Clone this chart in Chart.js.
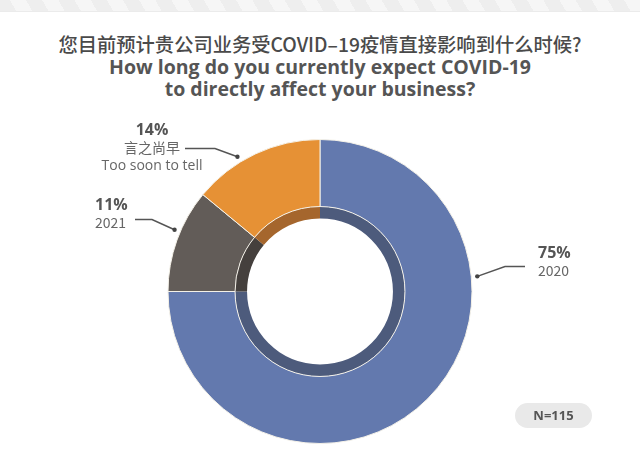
<!DOCTYPE html>
<html>
<head>
<meta charset="utf-8">
<script src="https://cdn.jsdelivr.net/npm/chart.js@4.4.0/dist/chart.umd.min.js"></script>
<style>
  body { margin: 0; background: #fff; }
  #wrap { position: relative; width: 640px; height: 450px; overflow: hidden; }
  #band {
    position: absolute; left: 0; top: 0; width: 640px; height: 11px;
    background: repeating-linear-gradient(60deg, #eeeeee 0 14px, #f6f6f6 14px 28px);
    border-bottom: 1px solid #ebebeb;
  }
  #title {
    position: absolute; left: 0; top: 30px; width: 640px; text-align: center;
    color: #4a4a4a;
  }
  #title div { height: 22.5px; line-height: 22.5px; white-space: nowrap; }
  #title .zh { font: 500 19.3px "Noto Sans CJK SC", "Open Sans", sans-serif; }
  #title .en { font: bold 19.5px "Open Sans", sans-serif; color: #555; }
  #badge {
    position: absolute; left: 515px; top: 403px; width: 77px; height: 25px;
    border-radius: 13px; background: #e9e9e9; color: #555;
    font: bold 13px "Open Sans", sans-serif; line-height: 25px; text-align: center;
  }
  canvas { position: absolute; left: 0; top: 0; }
</style>
</head>
<body>
<div id="wrap">
  <div id="band"></div>
  <div id="title">
    <div class="zh">您目前预计贵公司业务受COVID–19疫情直接影响到什么时候?</div>
    <div class="en">How long do you currently expect COVID-19</div>
    <div class="en">to directly affect your business?</div>
  </div>
  <canvas id="myChart" width="640" height="450"></canvas>
  <div id="badge">N=115</div>
</div>
<script>
// data
const categories = ["2020", "2021", "言之尚早"];
const subLabels = ["", "", "Too soon to tell"];
const shares = [75, 11, 14];

const colors = ["#6379ae", "#625c58", "#e69135"];
const innerColors = ["#4d5b7c", "#45403d", "#a5662d"];

// label placement: dot angle (deg clockwise from top), text offset from centre
const labelLayout = [
  { angle: 84.5, tx: 218, ty: -38, align: "left", elbow: [185, -25], end: [205, -25] },
  { angle: 293, tx: -225, ty: -86, align: "left", elbow: [-168, -72], end: [-185, -72] },
  { angle: 328.5, tx: -168, ty: -161, align: "center", elbow: [-105, -143], end: [-135, -143] }
];

const calloutPlugin = {
  id: "callouts",
  afterDraw(chart) {
    const ctx = chart.ctx;
    const meta = chart.getDatasetMeta(0);
    const arc0 = meta.data[0];
    const cx = arc0.x, cy = arc0.y, r = arc0.outerRadius + 6;
    ctx.save();
    labelLayout.forEach((lay, i) => {
      const a = lay.angle * Math.PI / 180;
      const dotX = cx + r * Math.sin(a);
      const dotY = cy - r * Math.cos(a);
      ctx.strokeStyle = "#555";
      ctx.lineWidth = 1.5;
      ctx.beginPath();
      ctx.moveTo(dotX, dotY);
      ctx.lineTo(cx + lay.elbow[0], cy + lay.elbow[1]);
      ctx.lineTo(cx + lay.end[0], cy + lay.end[1]);
      ctx.stroke();
      ctx.fillStyle = "#444";
      ctx.beginPath();
      ctx.arc(dotX, dotY, 2.2, 0, Math.PI * 2);
      ctx.fill();

      ctx.textAlign = lay.align;
      ctx.textBaseline = "middle";
      const x = cx + lay.tx, y = cy + lay.ty;
      ctx.fillStyle = "#555";
      ctx.font = "bold 16px 'Open Sans', sans-serif";
      ctx.fillText(shares[i] + "%", x, y);
      ctx.fillStyle = "#666";
      ctx.font = "14px 'Noto Sans CJK SC', 'Open Sans', sans-serif";
      ctx.fillText(categories[i], x, y + 17);
      if (subLabels[i]) {
        ctx.font = "14px 'Open Sans', sans-serif";
        ctx.fillText(subLabels[i], x, y + 36);
      }
    });
    ctx.restore();
  }
};

new Chart(document.getElementById("myChart"), {
  type: "doughnut",
  data: {
    labels: categories,
    datasets: [
      {
        data: shares,
        backgroundColor: colors,
        borderColor: "#f4f1e8",
        borderWidth: 1,
        weight: 67
      },
      {
        data: shares,
        backgroundColor: innerColors,
        borderWidth: 0,
        weight: 12
      }
    ]
  },
  options: {
    responsive: false,
    animation: false,
    cutout: "48%",
    hoverOffset: 0,
    layout: { padding: { top: 139, bottom: 6 } },
    plugins: {
      legend: { display: false },
      tooltip: { enabled: false }
    }
  },
  plugins: [calloutPlugin]
});
</script>
</body>
</html>
